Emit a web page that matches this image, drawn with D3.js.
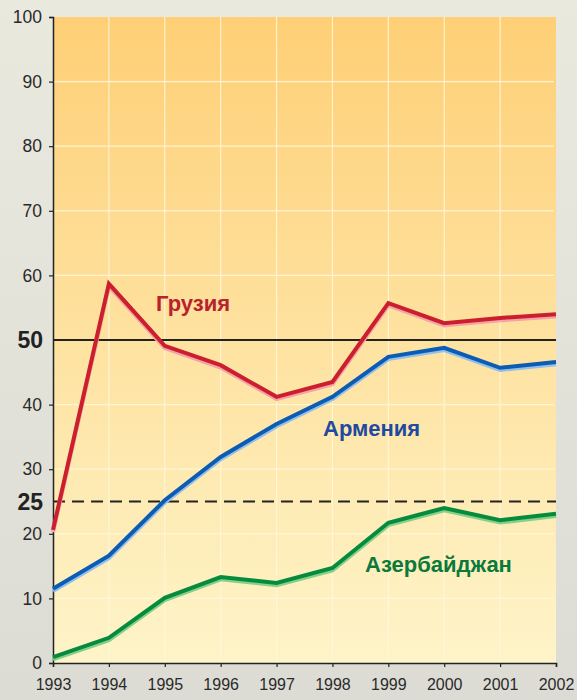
<!DOCTYPE html>
<html>
<head>
<meta charset="utf-8">
<script src="https://cdn.jsdelivr.net/npm/d3@7"></script>
<style>
  body { margin: 0; background: #e6e6dc; }
  svg { display: block; font-family: "Liberation Sans", Arial, sans-serif; }
</style>
</head>
<body>
<svg id="chart" width="577" height="700"></svg>
<script>
const years = [1993, 1994, 1995, 1996, 1997, 1998, 1999, 2000, 2001, 2002];
const georgia = [20.6, 58.7, 49.1, 46.1, 41.2, 43.5, 55.7, 52.6, 53.4, 54.0];
const armenia = [11.5, 16.6, 25.2, 31.9, 37.0, 41.2, 47.4, 48.8, 45.7, 46.6];
const azerbaijan = [0.9, 3.9, 10.1, 13.3, 12.4, 14.7, 21.7, 24.0, 22.1, 23.1];
const yTicks = [0, 10, 20, 30, 40, 60, 70, 80, 90, 100];
const boldTicks = [25, 50];

const series = [
  {name: "Грузия", values: georgia, color: "#cc1f2d", shadow: "#f4a3a8", text: "#b8222e", lx: 156, ly: 311},
  {name: "Армения", values: armenia, color: "#0b5cb3", shadow: "#94bfeb", text: "#1f4aa0", lx: 323, ly: 436},
  {name: "Азербайджан", values: azerbaijan, color: "#068a3e", shadow: "#86d08a", text: "#0a7a3c", lx: 365, ly: 572}
];

const svg = d3.select("#chart");
const m = {left: 53, right: 21, top: 17, bottom: 37};
const W = 577, H = 700;

const x = d3.scaleLinear().domain([1993, 2002]).range([m.left, W - m.right]);
const y = d3.scaleLinear().domain([0, 100]).range([H - m.bottom, m.top]);

// outer background
const defs = svg.append("defs");
const bg = defs.append("linearGradient").attr("id", "bg").attr("x1", 0).attr("y1", 0).attr("x2", 0).attr("y2", 1);
bg.append("stop").attr("offset", 0).attr("stop-color", "#e9e9de");
bg.append("stop").attr("offset", 1).attr("stop-color", "#dcdcd5");
svg.append("rect").attr("width", W).attr("height", H).attr("fill", "url(#bg)");

const plot = defs.append("linearGradient").attr("id", "plot").attr("x1", 0).attr("y1", 0).attr("x2", 0).attr("y2", 1);
plot.append("stop").attr("offset", 0).attr("stop-color", "#fecf76");
plot.append("stop").attr("offset", 0.5).attr("stop-color", "#fee2a0");
plot.append("stop").attr("offset", 1).attr("stop-color", "#fef4c9");

svg.append("rect")
  .attr("x", x(1993)).attr("y", y(100))
  .attr("width", x(2002) - x(1993)).attr("height", y(0) - y(100))
  .attr("fill", "url(#plot)");

// grid
svg.append("g").selectAll("line").data(d3.range(10, 100, 10))
  .join("line")
  .attr("x1", x(1993)).attr("x2", x(2002) - 2)
  .attr("y1", d => y(d)).attr("y2", d => y(d))
  .attr("stroke", "#fff8dc").attr("stroke-width", 1.2).attr("stroke-opacity", 0.85);

svg.append("g").selectAll("line").data(years.slice(1, -1))
  .join("line")
  .attr("x1", d => x(d)).attr("x2", d => x(d))
  .attr("y1", y(100)).attr("y2", y(0))
  .attr("stroke", "#fff8dc").attr("stroke-width", 1.2).attr("stroke-opacity", 0.85);

// reference lines
svg.append("line")
  .attr("x1", x(1993)).attr("x2", x(2002))
  .attr("y1", y(50)).attr("y2", y(50))
  .attr("stroke", "#222").attr("stroke-width", 2);
svg.append("line")
  .attr("x1", x(1993)).attr("x2", x(2002))
  .attr("y1", y(25)).attr("y2", y(25))
  .attr("stroke", "#222").attr("stroke-width", 2.2)
  .attr("stroke-dasharray", "12,7");

// axes
const yAxis = svg.append("g")
  .attr("transform", `translate(${m.left},0)`)
  .call(d3.axisLeft(y).tickValues(yTicks).tickSize(4).tickPadding(7));
yAxis.select(".domain").attr("stroke", "#222").attr("stroke-width", 1.5);
yAxis.selectAll(".tick line").attr("stroke", "#222").attr("stroke-width", 1.2);
yAxis.selectAll(".tick text").attr("font-size", 17.5).attr("fill", "#2a2a2a")
  .attr("font-family", "Liberation Sans, Arial, sans-serif");

svg.append("g").selectAll("text").data(boldTicks)
  .join("text")
  .attr("x", m.left - 10).attr("y", d => y(d)).attr("dy", "0.36em")
  .attr("text-anchor", "end")
  .attr("font-size", 23).attr("font-weight", "bold").attr("fill", "#222")
  .text(d => d);

const xAxis = svg.append("g")
  .attr("transform", `translate(0,${y(0)})`)
  .call(d3.axisBottom(x).tickValues(years).tickFormat(d3.format("d")).tickSize(4).tickPadding(12));
xAxis.select(".domain").attr("stroke", "#222").attr("stroke-width", 1.5);
xAxis.selectAll(".tick line").attr("stroke", "#222").attr("stroke-width", 1.2);
xAxis.selectAll(".tick text").attr("font-size", 16).attr("fill", "#2a2a2a")
  .attr("font-family", "Liberation Sans, Arial, sans-serif");

// lines
const line = d3.line().x((d, i) => x(years[i])).y(d => y(d));

series.forEach(s => {
  svg.append("path")
    .attr("d", line(s.values))
    .attr("transform", "translate(0,2.2)")
    .attr("fill", "none").attr("stroke", s.shadow)
    .attr("stroke-width", 4.2).attr("stroke-linejoin", "miter");
  svg.append("path")
    .attr("d", line(s.values))
    .attr("fill", "none").attr("stroke", s.color)
    .attr("stroke-width", 4).attr("stroke-linejoin", "miter");
  svg.append("text")
    .attr("x", s.lx).attr("y", s.ly)
    .attr("font-size", 22).attr("font-weight", "bold")
    .attr("fill", s.text)
    .text(s.name);
});
</script>
</body>
</html>
